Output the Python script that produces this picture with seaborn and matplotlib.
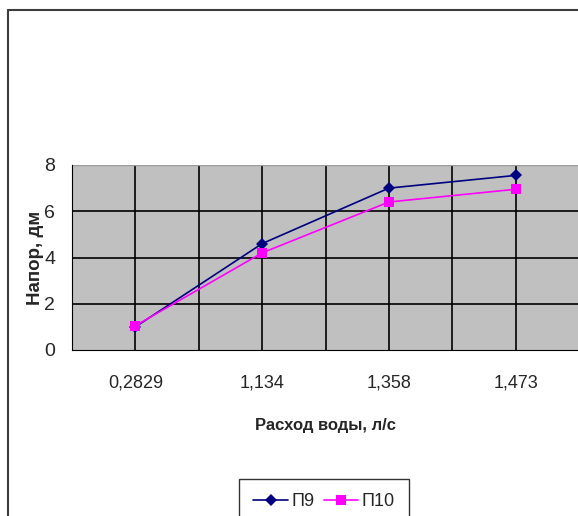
import matplotlib
matplotlib.use("Agg")

import matplotlib.pyplot as plt
from matplotlib.lines import Line2D
import seaborn as sns
import pandas as pd
import numpy as np

# data
flow_labels = ["0,2829", "1,134", "1,358", "1,473"]
p9_values = [1.0, 4.6, 7.0, 7.55]
p10_values = [1.05, 4.2, 6.4, 6.95]
series_names = ["П9", "П10"]

positions = np.arange(len(flow_labels))
df = pd.DataFrame({
    "pos": np.concatenate([positions, positions]),
    "val": p9_values + p10_values,
    "series": [series_names[0]] * len(p9_values) + [series_names[1]] * len(p10_values),
})

sns.set_style("white")
plt.rcParams["font.family"] = ["Liberation Sans", "DejaVu Sans"]

fig = plt.figure(figsize=(5.78, 5.16), dpi=100)
ax = fig.add_axes([72 / 578, 1 - 350 / 516, 507 / 578, 185 / 516])
ax.set_facecolor("#C0C0C0")

sns.lineplot(
    data=df, x="pos", y="val", hue="series", style="series",
    palette={"П9": "#000080", "П10": "#FF00FF"},
    markers={"П9": "D", "П10": "s"}, dashes=False,
    markersize=6.5, markeredgewidth=0, linewidth=1.2,
    legend=False, ax=ax,
)

ax.set_xlim(-0.5, len(flow_labels) - 0.5)
ax.set_ylim(0, 8)
ax.set_yticks([0, 2, 4, 6, 8])
ax.set_xticks(positions)
ax.set_xticklabels(flow_labels, fontsize=13)
ax.set_xticks(positions[:-1] + 0.5, minor=True)
ax.tick_params(axis="x", which="major", length=0, pad=18)
ax.tick_params(axis="x", which="minor", length=8, width=1, color="black", direction="out")
ax.tick_params(axis="y", length=6, width=1, color="black", direction="out", pad=6, labelsize=14)

# gridlines: horizontal at the y ticks, vertical at centres and boundaries
for y in [2, 4, 6]:
    ax.axhline(y, color="black", linewidth=1.2, zorder=0.5)
for x in np.arange(0, len(flow_labels) - 0.5, 0.5):
    ax.axvline(x, color="black", linewidth=1.2, zorder=0.5)

for side in ["top", "right"]:
    ax.spines[side].set_visible(False)
ax.axhline(8, color="#9a9a9a", linewidth=1, zorder=0.5)
ax.spines["left"].set_color("black")
ax.spines["bottom"].set_color("black")

ax.set_xlabel("Расход воды, л/с", fontsize=12, fontweight="bold", labelpad=19)
ax.set_ylabel("Напор, дм", fontsize=13.5, fontweight="bold", labelpad=0)

# legend at the bottom, cut by the image edge
handles = [
    Line2D([], [], color="#000080", marker="D", markersize=6, markeredgewidth=0, linewidth=1.2),
    Line2D([], [], color="#FF00FF", marker="s", markersize=7, markeredgewidth=0, linewidth=1.2),
]
fig.legend(handles, series_names, loc="upper center", ncol=2,
           bbox_to_anchor=(324 / 578, 1 - 479 / 516), fontsize=13,
           frameon=True, fancybox=False, edgecolor="black",
           handlelength=1.9, handletextpad=0.2, columnspacing=0.5,
           borderpad=0.8, borderaxespad=0)

# chart area frame
fig.add_artist(Line2D([8 / 578, 8 / 578], [0, 1 - 10 / 516], transform=fig.transFigure,
                      color="#3c3c3c", linewidth=1.5))
fig.add_artist(Line2D([8 / 578, 1], [1 - 10 / 516, 1 - 10 / 516], transform=fig.transFigure,
                      color="#3c3c3c", linewidth=1.5))

plt.savefig("out.png", dpi=100)
plt.close()
